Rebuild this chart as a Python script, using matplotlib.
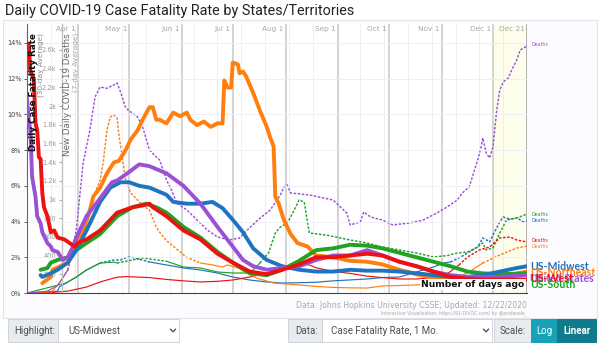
import matplotlib
matplotlib.use("Agg")
import matplotlib.pyplot as plt
from matplotlib.patches import Rectangle
from matplotlib.lines import Line2D
from matplotlib.ticker import FuncFormatter

# ---------------- data ----------------
title = "Daily COVID-19 Case Fatality Rate by States/Territories"
day_ticks = list(range(-294, 1, 14))
cfr_ticks = list(range(0, 15, 2))
death_ticks = list(range(200, 2601, 200))
month_labels = ["Apr 1", "May 1", "Jun 1", "Jul 1", "Aug 1", "Sep 1", "Oct 1", "Nov 1", "Dec 1", "Dec 21"]
month_days = [-264, -234, -203, -173, -142, -111, -81, -50, -20, 0]

# Case fatality rate (%), 30-day average
west_days = [-294, -293, -292, -291, -290, -289, -288, -287, -286, -285, -284, -282, -280, -278, -276, -272, -269, -266, -264,
             -259, -251, -241, -232, -226, -222, -220, -212, -202, -192, -182, -173, -163, -153, -144, -134, -124, -114,
             -104, -94, -85, -75, -65, -55, -45, -35, -26, -16, 0]
west_cfr = [14.0, 13.9, 12.4, 12.2, 12.0, 9.5, 9.1, 7.6, 7.5, 5.6, 4.8, 4.3, 3.4, 3.5, 3.1, 3.0, 2.8, 2.6, 2.8,
            3.0, 3.5, 4.5, 4.8, 4.9, 5.0, 4.8, 4.3, 3.5, 3.0, 2.2, 1.7, 1.2, 1.05, 1.3, 1.6, 2.0, 2.0,
            2.1, 2.2, 2.1, 1.75, 1.5, 1.2, 0.9, 0.8, 0.75, 0.75, 0.75]

us_days = [-294, -293, -292, -291, -289, -288, -286, -285, -282, -280, -279, -276, -273, -270, -267, -265, -259, -251,
           -244, -241, -235, -228, -222, -212, -202, -192, -182, -173, -167, -161, -153, -144, -134, -124, -114, -104,
           -94, -85, -75, -65, -55, -45, -35, -26, -16, 0]
us_cfr = [10.9, 9.7, 9.1, 6.5, 5.4, 4.3, 3.9, 3.4, 2.8, 2.6, 2.4, 2.3, 1.85, 2.0, 2.6, 3.1, 4.3, 5.3,
          6.2, 6.3, 6.7, 7.2, 7.1, 6.7, 6.0, 5.0, 3.7, 2.6, 1.85, 1.5, 1.3, 1.4, 1.5, 1.85, 2.1, 2.1,
          2.4, 2.1, 1.75, 1.5, 1.2, 1.0, 0.9, 0.9, 0.9, 1.0]

midwest_days = [-286, -285, -280, -276, -270, -265, -259, -251, -245, -239, -234, -228, -222, -212, -208, -200, -192,
                -185, -179, -173, -167, -161, -153, -144, -134, -124, -114, -104, -94, -85, -75, -65, -55, -45, -35,
                -26, -16, -6, 0]
midwest_cfr = [1.0, 0.9, 1.1, 1.3, 1.7, 2.4, 3.5, 5.1, 5.9, 6.2, 6.2, 6.0, 5.9, 5.5, 5.1, 5.0, 5.0,
               5.1, 4.75, 4.1, 3.4, 2.5, 1.85, 1.5, 1.3, 1.2, 1.2, 1.3, 1.25, 1.25, 1.2, 1.1, 1.0, 0.9, 0.9,
               1.0, 1.2, 1.4, 1.5]

south_days = [-286, -282, -280, -276, -270, -265, -259, -251, -243, -241, -232, -224, -218, -212, -202, -192, -182,
              -173, -163, -153, -144, -134, -124, -114, -104, -94, -85, -75, -65, -55, -45, -35, -26, -16, 0]
south_cfr = [1.3, 1.4, 1.7, 1.85, 2.0, 2.4, 2.8, 3.3, 4.1, 4.3, 4.8, 5.0, 4.8, 4.5, 3.7, 3.1, 2.3,
             1.7, 1.1, 1.0, 1.3, 1.8, 2.4, 2.5, 2.7, 2.65, 2.5, 2.25, 2.0, 1.75, 1.5, 1.2, 1.1, 1.05, 1.1]

northeast_days = [-285, -280, -279, -270, -265, -261, -258, -255, -251, -247, -243, -240, -236, -233, -229, -226, -222,
                  -220, -218, -216, -212, -208, -204, -200, -198, -194, -190, -186, -182, -179, -178, -176, -174, -173,
                  -170, -169, -167, -165, -161, -157, -153, -151, -149, -148, -146, -143, -139, -135, -129, -124, -114,
                  -104, -94, -85, -75, -65, -55, -45, -35, -26, -16, 0]
northeast_cfr = [0.55, 0.9, 1.3, 1.7, 2.6, 3.5, 4.3, 5.4, 5.9, 6.7, 7.3, 7.4, 8.0, 8.6, 9.1, 9.7, 10.4,
                 10.4, 9.7, 9.7, 9.5, 10.1, 9.9, 10.1, 9.7, 9.4, 9.6, 9.3, 9.5, 9.5, 11.9, 11.5, 11.5, 12.9,
                 12.8, 12.3, 12.4, 12.1, 11.2, 10.2, 9.3, 8.7, 8.2, 5.4, 5.0, 4.1, 3.3, 2.8, 2.6, 2.1, 2.0,
                 1.8, 1.75, 1.6, 1.3, 1.05, 0.85, 0.7, 0.6, 0.75, 0.9, 1.2]

# New daily deaths, 7-day average
us_d_days = [-294, -282, -276, -270, -265, -261, -257, -254, -251, -247, -243, -241, -239, -236, -233, -229, -226,
             -222, -218, -216, -212, -209, -206, -200, -194, -188, -182, -175, -169, -163, -157, -151, -147, -145,
             -143, -141, -139, -128, -114, -106, -104, -98, -96, -92, -85, -79, -69, -61, -53, -47, -41, -38, -34,
             -29, -27, -26, -24, -22, -20, -18, -16, -14, -11, -9, -6, -4, -1, 0]
us_deaths = [0, 20, 80, 246, 674, 1390, 1744, 2097, 2204, 2190, 2226, 2247, 2151, 1980, 1937, 1883, 1776,
             1530, 1455, 1423, 1209, 1102, 963, 888, 781, 674, 599, 567, 589, 700, 800, 888, 995, 1050,
             1134, 1156, 1070, 1049, 995, 856, 728, 760, 867, 813, 781, 728, 749, 781, 856, 920, 995, 1070, 1134,
             1423, 1562, 1659, 1498, 1445, 1562, 1926, 2172, 2258, 2300, 2386, 2493, 2600, 2632, 2664]

ne_d_days = [-294, -280, -275, -270, -267, -264, -259, -255, -251, -249, -247, -245, -243, -241, -240, -238, -236,
             -233, -229, -226, -222, -218, -216, -212, -206, -200, -192, -185, -179, -176, -170, -159, -149, -134,
             -124, -114, -104, -94, -85, -65, -55, -45, -35, -26, -16, -6, 0]
ne_deaths = [0, 0, 107, 246, 450, 599, 813, 1027, 1209, 1423, 1744, 1883, 1905, 1872, 1700, 1450, 1209,
             1070, 995, 940, 888, 706, 650, 560, 470, 380, 321, 300, 278, 300, 268, 160, 107, 86,
             70, 60, 55, 53, 75, 86, 107, 139, 214, 321, 407, 481, 503]

mw_d_days = [-294, -276, -275, -265, -259, -251, -243, -239, -235, -232, -222, -212, -202, -192, -182, -173, -163,
             -153, -144, -134, -124, -114, -104, -94, -85, -75, -65, -55, -49, -45, -39, -35, -29, -26, -24, -22,
             -20, -16, -14, -10, -6, -2, 0]
mw_deaths = [0, 20, 64, 171, 246, 321, 353, 353, 385, 380, 332, 300, 268, 246, 214, 171, 139,
             118, 107, 110, 115, 130, 140, 150, 165, 171, 225, 278, 321, 332, 385, 428, 492, 589, 570, 546,
             620, 760, 813, 790, 803, 760, 770]

south_d_days = [-294, -271, -265, -259, -251, -243, -241, -232, -226, -212, -202, -192, -182, -173, -163, -157,
                -152, -148, -145, -141, -139, -136, -134, -131, -129, -128, -118, -104, -94, -85, -75, -65, -55,
                -47, -41, -35, -29, -26, -24, -20, -16, -12, -6, 0]
south_deaths = [0, 107, 171, 246, 321, 330, 321, 353, 375, 340, 278, 268, 225, 214, 214, 321,
                428, 642, 706, 749, 813, 920, 995, 974, 749, 642, 620, 567, 535, 492, 460, 428, 385,
                400, 428, 439, 492, 535, 460, 481, 642, 781, 803, 845]

west_d_days = [-294, -280, -270, -259, -251, -243, -240, -235, -222, -212, -202, -192, -182, -173, -163, -153, -144,
               -138, -134, -128, -124, -114, -104, -94, -85, -75, -65, -55, -50, -45, -40, -35, -28, -22, -16, -10,
               -6, 0]
west_deaths = [0, 5, 20, 64, 118, 160, 171, 175, 165, 145, 130, 118, 125, 139, 171, 214, 268,
               300, 321, 300, 270, 230, 210, 180, 165, 150, 150, 165, 170, 230, 300, 385, 460, 492, 589, 599,
               567, 546]

colors = {"Midwest": "#1f74c0", "Northeast": "#ff7f0e", "US": "#9b51d6", "West": "#ee1111", "South": "#21a221"}

# ---------------- figure ----------------
W, H = 600, 344
fig = plt.figure(figsize=(6, 3.44), dpi=100)
fig.patch.set_facecolor("white")


def fx(px):
    return px / W


def fy(py):
    return 1 - py / H


# container
fig.patches.append(Rectangle((fx(3), fy(318)), fx(594), fy(20) - fy(318), transform=fig.transFigure,
                             facecolor="#fcfcfe", edgecolor="#e3e3ea", lw=0.8, zorder=0))

L, R, T, B = 27, 527, 24, 293
ax = fig.add_axes([fx(L), fy(B), fx(R) - fx(L), fy(T) - fy(B)])
ax2 = ax.twinx()
ax2.set_zorder(1)
ax.set_zorder(2)
ax.patch.set_visible(False)
ax2.patch.set_visible(True)
ax2.patch.set_facecolor("white")

ax.set_xlim(-294, 0)
ax.set_ylim(0, 15.06)
ax2.set_ylim(0, 2878)

# background decorations on ax2
ax2.axvspan(-20, 0, color="#fdfdec", lw=0, zorder=0)
for d in day_ticks:
    ax2.axvline(d, color="#ececf4", lw=0.6, zorder=0.5)
for md in month_days[:-1]:
    ax2.axvline(md, color="#c9c9c9", lw=1.1, zorder=0.6)
ax2.axvline(0, color="#b0b0b0", lw=1.4, zorder=0.6)
for c in cfr_ticks[1:]:
    ax.axhline(c, color="#ececf4", lw=0.6, zorder=0)

for lab, md in zip(month_labels, month_days):
    ax.text(md - 1.2, 0.983, lab, transform=ax.get_xaxis_transform(), ha="right", va="center",
            fontsize=5.3, color="#a8a8a8")


# deaths lines: thin; dotted where the daily scatter is visible (high counts), solid where it merges
def plot_deaths(days, vals, col, thr=350):
    runs = []
    for i in range(len(days) - 1):
        dotted = max(vals[i], vals[i + 1]) >= thr
        if runs and runs[-1][0] == dotted:
            runs[-1][1].append(i + 1)
        else:
            runs.append([dotted, [i, i + 1]])
    for dotted, idx in runs:
        ax2.plot([days[j] for j in idx], [vals[j] for j in idx], color=col,
                 lw=1.05 if dotted else 0.85,
                 linestyle=(0, (1.7, 1.1)) if dotted else "-", zorder=2)


for dd, dv, col in [(mw_d_days, mw_deaths, colors["Midwest"]),
                    (south_d_days, south_deaths, colors["South"]),
                    (west_d_days, west_deaths, colors["West"]),
                    (ne_d_days, ne_deaths, colors["Northeast"]),
                    (us_d_days, us_deaths, colors["US"])]:
    plot_deaths(dd, dv, col)

# CFR lines (thick)
for dd, dv, col in [(northeast_days, northeast_cfr, colors["Northeast"]),
                    (south_days, south_cfr, colors["South"]),
                    (midwest_days, midwest_cfr, colors["Midwest"]),
                    (us_days, us_cfr, colors["US"]),
                    (west_days, west_cfr, colors["West"])]:
    ax.plot(dd, dv, color=col, lw=2.8, solid_joinstyle="round", solid_capstyle="round", zorder=3)

# axes styling
for s in ["top", "right"]:
    ax.spines[s].set_visible(False)
    ax2.spines[s].set_visible(False)
ax.spines["left"].set_color("#666")
ax.spines["bottom"].set_color("#444")
ax.spines["left"].set_linewidth(0.8)
ax.spines["bottom"].set_linewidth(0.8)
ax2.spines["bottom"].set_visible(False)

ax.set_xticks(day_ticks)
ax.set_xticklabels([str(d) for d in day_ticks])
ax.tick_params(axis="x", labelsize=4.6, colors="#444", length=2.5, width=0.6, pad=1.5)
ax.set_yticks(cfr_ticks)
ax.yaxis.set_major_formatter(FuncFormatter(lambda v, p: f"{int(v)}%"))
ax.tick_params(axis="y", labelsize=4.8, colors="#444", length=2.5, width=0.6, pad=1.5)

ax2.yaxis.tick_left()
ax2.spines["left"].set_visible(True)
ax2.spines["left"].set_position(("axes", 35 / 500))
ax2.spines["left"].set_color("#c0c0c0")
ax2.spines["left"].set_linewidth(1.0)
ax2.set_yticks(death_ticks)
ax2.yaxis.set_major_formatter(FuncFormatter(
    lambda v, p: (f"{v / 1000:g}k" if v >= 1000 else f"{int(v)}")))
ax2.tick_params(axis="y", labelsize=4.8, colors="#999", length=2.5, width=0.6, pad=1.5)
ax2.set_xticks([])

# axis titles
fig.text(fx(33), fy(33), "Daily Case Fatality Rate", rotation=90, ha="center", va="top",
         fontsize=6.3, fontweight="bold", color="#111")
fig.text(fx(40.5), fy(33), "(30-day Average)", rotation=90, ha="center", va="top",
         fontsize=5.3, color="#888")
fig.text(fx(67.5), fy(33), "New Daily COVID-19 Deaths", rotation=90, ha="center", va="top",
         fontsize=6.3, color="#666")
fig.text(fx(76), fy(33), "(7-day Average)", rotation=90, ha="center", va="top",
         fontsize=5.3, color="#aaa")

# series labels on right (stacked as in the reference)
for lab, py, col in [("US-Midwest", 267, colors["Midwest"]), ("US-Northeast", 273, colors["Northeast"]),
                     ("United States", 279, colors["US"]), ("US-West", 278, colors["West"]),
                     ("US-South", 285, colors["South"])]:
    fig.text(fx(530), fy(py), lab, ha="left", va="center", fontsize=7.6, fontweight="bold",
             color=col, family="Lato")
for py, col in [(44, colors["US"]), (214, colors["South"]), (221, colors["Midwest"]),
                (240, colors["West"]), (246, colors["Northeast"])]:
    fig.text(fx(531), fy(py), "Deaths", ha="left", va="center", fontsize=3.4, color=col)

ax.text(-1.5, 0.032, "Number of days ago", transform=ax.get_xaxis_transform(), ha="right", va="center",
        fontsize=6.6, fontweight="bold", color="#111", zorder=10,
        bbox=dict(boxstyle="square,pad=0.15", facecolor="white", edgecolor="none"))

# title and credits
fig.text(fx(5), fy(11), title, ha="left", va="center", fontsize=10.4, color="#222", family="Roboto")
fig.text(fx(527), fy(305), "Data: Johns Hopkins University CSSE; Updated: 12/22/2020", ha="right",
         va="center", fontsize=5.6, color="#aaa")
fig.text(fx(527), fy(313), "Interactive Visualization: https://91-DIVOC.com/ by @profwade_", ha="right",
         va="center", fontsize=3.3, color="#aaa")


# ---------------- control bar ----------------
def box(x0, x1, y0, y1, fc, ec="#ced4da"):
    fig.patches.append(Rectangle((fx(x0), fy(y1)), fx(x1 - x0), fy(y0) - fy(y1), transform=fig.transFigure,
                                 facecolor=fc, edgecolor=ec, lw=0.7, zorder=1))


def chevron(xc, yc):
    xs = [fx(xc - 2.5), fx(xc), fx(xc + 2.5)]
    ys = [fy(yc - 1.3), fy(yc + 1.3), fy(yc - 1.3)]
    fig.lines.append(Line2D(xs, ys, transform=fig.transFigure, color="#444", lw=0.9))


ui_font = "Roboto"
box(8, 179, 319, 342, "white")
box(8, 58, 319, 342, "#e9ecef")
fig.text(fx(14), fy(330.5), "Highlight:", fontsize=7, color="#495057", va="center", family=ui_font)
fig.text(fx(68), fy(330.5), "US-Midwest", fontsize=7, color="#495057", va="center", family=ui_font)
chevron(173, 330.5)

box(288, 492, 319, 342, "white")
box(288, 322, 319, 342, "#e9ecef")
fig.text(fx(295), fy(330.5), "Data:", fontsize=7, color="#495057", va="center", family=ui_font)
fig.text(fx(331), fy(330.5), "Case Fatality Rate, 1 Mo.", fontsize=7, color="#495057", va="center",
         family=ui_font)
chevron(486, 330.5)

box(494, 531, 319, 342, "#e9ecef")
fig.text(fx(500), fy(330.5), "Scale:", fontsize=7, color="#495057", va="center", family=ui_font)
box(531, 557, 319, 342, "#17a2b8", ec="#17a2b8")
fig.text(fx(544), fy(330.5), "Log", fontsize=7, color="white", va="center", ha="center", family=ui_font)
box(557, 596, 319, 342, "#117a8b", ec="#117a8b")
fig.text(fx(576.5), fy(330.5), "Linear", fontsize=7, color="white", va="center", ha="center",
         fontweight="bold", family=ui_font)

fig.savefig("out.png", dpi=100, facecolor="white")
